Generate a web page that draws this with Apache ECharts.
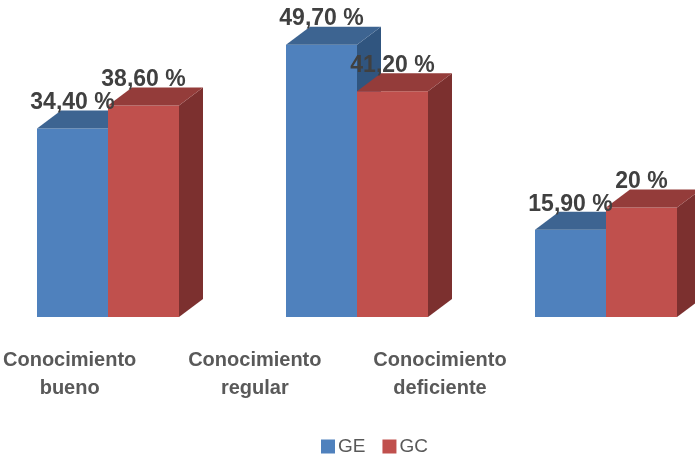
<!DOCTYPE html>
<html>
<head>
<meta charset="utf-8">
<script src="https://cdn.jsdelivr.net/npm/echarts@6/dist/echarts.min.js"></script>
<style>html,body{margin:0;padding:0;background:#fff;}#c{width:695px;height:457px;}</style>
</head>
<body>
<div id="c"></div>
<script>
var categories = ['Conocimiento\nbueno', 'Conocimiento\nregular', 'Conocimiento\ndeficiente'];
var seriesNames = ['GE', 'GC'];
var geValues = [34.4, 49.7, 15.9];
var gcValues = [38.6, 41.2, 20];
var geLabels = ['34,40 %', '49,70 %', '15,90 %'];
var gcLabels = ['38,60 %', '41,20 %', '20 %'];

var DX = 24, DY = 18;
var palette = [
  {front: '#4F81BD', top: '#3D6491', side: '#30557F'},
  {front: '#C0504D', top: '#943C3A', side: '#7C302F'}
];

function geom(api, idx) {
  var ci = api.value(0), v = api.value(1);
  var base = api.coord([ci, 0]);
  var top = api.coord([ci, v]);
  var band = api.size([1, 0])[0];
  var w = band * 71 / 249;
  var x0 = base[0] - w + idx * w;
  return {x0: x0, x1: x0 + w, yb: base[1], yt: top[1], w: w};
}

function barRender(idx) {
  return function (params, api) {
    var g = geom(api, idx), c = palette[idx];
    return {
      type: 'group',
      children: [
        {type: 'polygon', shape: {points: [[g.x1, g.yt], [g.x1 + DX, g.yt - DY], [g.x1 + DX, g.yb - DY], [g.x1, g.yb]]}, style: {fill: c.side}},
        {type: 'rect', shape: {x: g.x0, y: g.yt, width: g.w, height: g.yb - g.yt}, style: {fill: c.front}},
        {type: 'polygon', shape: {points: [[g.x0, g.yt], [g.x1, g.yt], [g.x1 + DX, g.yt - DY], [g.x0 + DX, g.yt - DY]]}, style: {fill: c.top}}
      ]
    };
  };
}

function labelRender(idx, labels) {
  return function (params, api) {
    var g = geom(api, idx);
    return {
      type: 'text',
      style: {
        text: labels[params.dataIndex],
        x: (g.x0 + g.x1) / 2,
        y: g.yt - DY + 4,
        align: 'center',
        verticalAlign: 'bottom',
        fontSize: 23,
        fontWeight: 'bold',
        fontFamily: "'Liberation Sans', Arial, sans-serif",
        fill: '#404040'
      }
    };
  };
}

function toData(vals) { return vals.map(function (v, i) { return [i, v]; }); }

var chart = echarts.init(document.getElementById('c'), null, {renderer: 'canvas'});
chart.setOption({
  animation: false,
  backgroundColor: '#ffffff',
  grid: [
    {left: 108, right: 89, top: 43, bottom: 140},
    {left: 67, right: 255, top: 43, bottom: 140}
  ],
  xAxis: [
    {type: 'category', gridIndex: 0, boundaryGap: false, data: categories, axisLine: {show: false}, axisTick: {show: false}, axisLabel: {show: false}, splitLine: {show: false}},
    {type: 'category', gridIndex: 1, boundaryGap: false, data: categories, axisLine: {show: false}, axisTick: {show: false}, splitLine: {show: false},
     axisLabel: {interval: 0, margin: 29, fontSize: 20, lineHeight: 28, fontWeight: 'bold', color: '#595959', fontFamily: "'Liberation Sans', Arial, sans-serif"}}
  ],
  yAxis: [
    {type: 'value', gridIndex: 0, min: 0, max: 50, show: false},
    {type: 'value', gridIndex: 1, min: 0, max: 50, show: false}
  ],
  legend: {
    data: seriesNames,
    left: 316,
    top: 432,
    icon: 'rect',
    itemWidth: 14,
    itemHeight: 14,
    itemGap: 17,
    itemStyle: {borderWidth: 0},
    textStyle: {fontSize: 19, color: '#595959', fontFamily: "'Liberation Sans', sans-serif", padding: [0, 0, 0, -2]}
  },
  series: [
    {name: seriesNames[0], type: 'custom', xAxisIndex: 0, yAxisIndex: 0, itemStyle: {color: palette[0].front}, renderItem: barRender(0), data: toData(geValues), z: 2},
    {name: seriesNames[1], type: 'custom', xAxisIndex: 0, yAxisIndex: 0, itemStyle: {color: palette[1].front}, renderItem: barRender(1), data: toData(gcValues), z: 3},
    {name: 'GE-label', type: 'custom', xAxisIndex: 0, yAxisIndex: 0, renderItem: labelRender(0, geLabels), data: toData(geValues), z: 10, silent: true},
    {name: 'GC-label', type: 'custom', xAxisIndex: 0, yAxisIndex: 0, renderItem: labelRender(1, gcLabels), data: toData(gcValues), z: 11, silent: true}
  ]
});
</script>
</body>
</html>
